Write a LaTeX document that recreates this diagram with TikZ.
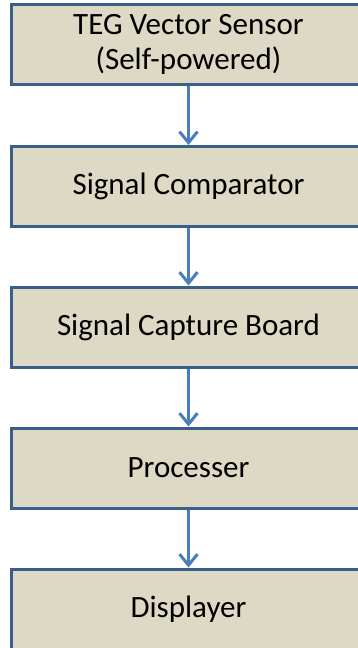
\documentclass[tikz,border=0pt]{standalone}
\usepackage{fontspec}
\setmainfont{Carlito}
\usetikzlibrary{arrows.meta}
\definecolor{boxfill}{HTML}{DDD9C4}
\definecolor{boxline}{HTML}{3A5F8B}
\definecolor{arrowblue}{HTML}{4A7EBB}
\begin{document}
\begin{tikzpicture}[x=1pt,y=1pt,
  stagebox/.style={draw=boxline, fill=boxfill, line width=3pt,
    minimum width=355pt, minimum height=80pt, inner sep=0pt,
    align=center, font=\fontsize{31}{35}\selectfont},
  flow/.style={draw=arrowblue, line width=3pt,
    -{Straight Barb[length=11pt,width=18pt,line width=3pt]}}]
\useasboundingbox (0,0) rectangle (358,-648);
\clip (0,0) rectangle (358,-648);
\node[stagebox] (teg)  at (188.5,-44)  {TEG Vector Sensor\\(Self-powered)};
\node[stagebox] (comp) at (188.5,-186.5) {Signal Comparator};
\node[stagebox] (cap)  at (188.5,-327) {Signal Capture Board};
\node[stagebox] (proc) at (188.5,-468) {Processer};
\node[stagebox] (disp) at (188.5,-609) {Displayer};
\draw[flow] (teg.south)  -- (comp.north);
\draw[flow] (comp.south) -- (cap.north);
\draw[flow] (cap.south)  -- (proc.north);
\draw[flow] (proc.south) -- (disp.north);
\end{tikzpicture}
\end{document}
